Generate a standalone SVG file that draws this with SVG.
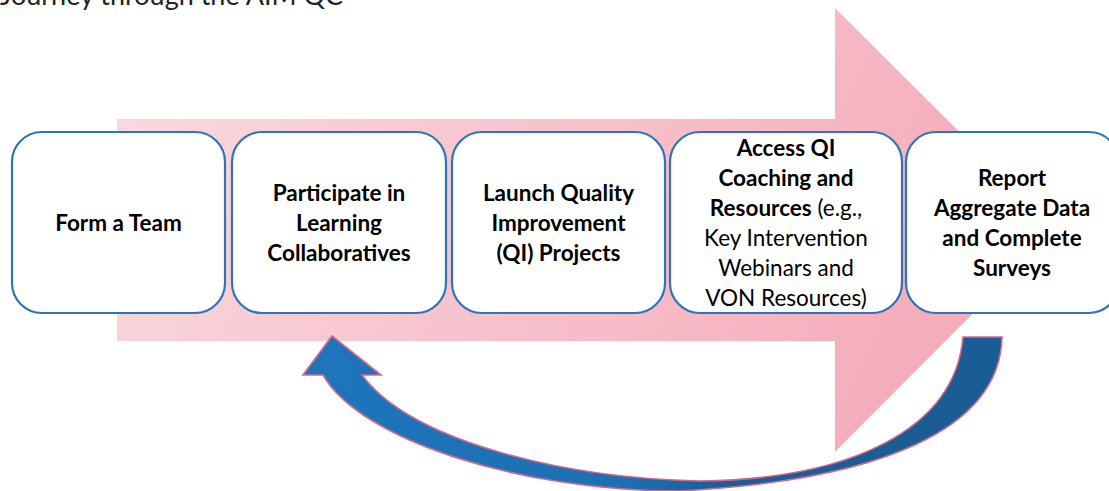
<svg xmlns="http://www.w3.org/2000/svg" width="1109" height="491" viewBox="0 0 1109 491">
<defs>
<linearGradient id="pink" gradientUnits="userSpaceOnUse" x1="117" y1="8" x2="1000" y2="450">
<stop offset="0" stop-color="#fadbe1"/>
<stop offset="1" stop-color="#f4a6b6"/>
</linearGradient>
<linearGradient id="blue" gradientUnits="userSpaceOnUse" x1="320" y1="0" x2="1000" y2="0">
<stop offset="0" stop-color="#1e75bc"/>
<stop offset="0.45" stop-color="#1d6fb2"/>
<stop offset="0.6" stop-color="#1a5e97"/>
<stop offset="1" stop-color="#1a5d95"/>
</linearGradient>
<style>
.box{fill:#ffffff;stroke:#2e75b6;stroke-width:2.2}
.t{font-family:Lato,"Open Sans",sans-serif;font-size:22.5px;fill:#000000;text-anchor:middle}
.b{font-weight:bold}
.title{font-family:Lato,"Open Sans",sans-serif;font-size:27px;fill:#222222}
</style>
</defs>
<text class="title" x="0" y="5">Journey through the AIM QC</text>
<path id="bigarrow" d="M117,119 H835 V8 L1057,229 L835,452 V341 H117 Z" fill="url(#pink)"/>
<g id="connectors">
<path d="M1002,337 C1000,430 880,480 680,491 C520,491 360,440 323,375 L303,375 L332,336 L381,375 L362,375 C410,440 560,478 700,481 C850,479 955,430 963,337 Z" fill="url(#blue)" stroke="#d2698c" stroke-width="1.6" stroke-linejoin="miter"/>
</g>
<g id="n1">
<rect class="box" x="12" y="132" width="213" height="181" rx="30"/>
<text class="t b" x="118.5" y="231">Form a Team</text>
</g>
<g id="n2">
<rect class="box" x="232" y="132" width="214" height="181" rx="30"/>
<text class="t b" x="339" y="201">Participate in</text>
<text class="t b" x="339" y="231">Learning</text>
<text class="t b" x="339" y="261">Collaboratives</text>
</g>
<g id="n3">
<rect class="box" x="452" y="132" width="213" height="181" rx="30"/>
<text class="t b" x="558.5" y="201">Launch Quality</text>
<text class="t b" x="558.5" y="231">Improvement</text>
<text class="t b" x="558.5" y="261">(QI) Projects</text>
</g>
<g id="n4">
<rect class="box" x="670" y="132" width="232" height="181" rx="30"/>
<text class="t b" x="786" y="156">Access QI</text>
<text class="t b" x="786" y="186">Coaching and</text>
<text class="t" x="786" y="216"><tspan class="b">Resources</tspan> (e.g.,</text>
<text class="t" x="786" y="246">Key Intervention</text>
<text class="t" x="786" y="276">Webinars and</text>
<text class="t" x="786" y="306">VON Resources)</text>
</g>
<g id="n5">
<rect class="box" x="906" y="132" width="213" height="181" rx="30"/>
<text class="t b" x="1012" y="186">Report</text>
<text class="t b" x="1012" y="216">Aggregate Data</text>
<text class="t b" x="1012" y="246">and Complete</text>
<text class="t b" x="1012" y="276">Surveys</text>
</g>
</svg>
